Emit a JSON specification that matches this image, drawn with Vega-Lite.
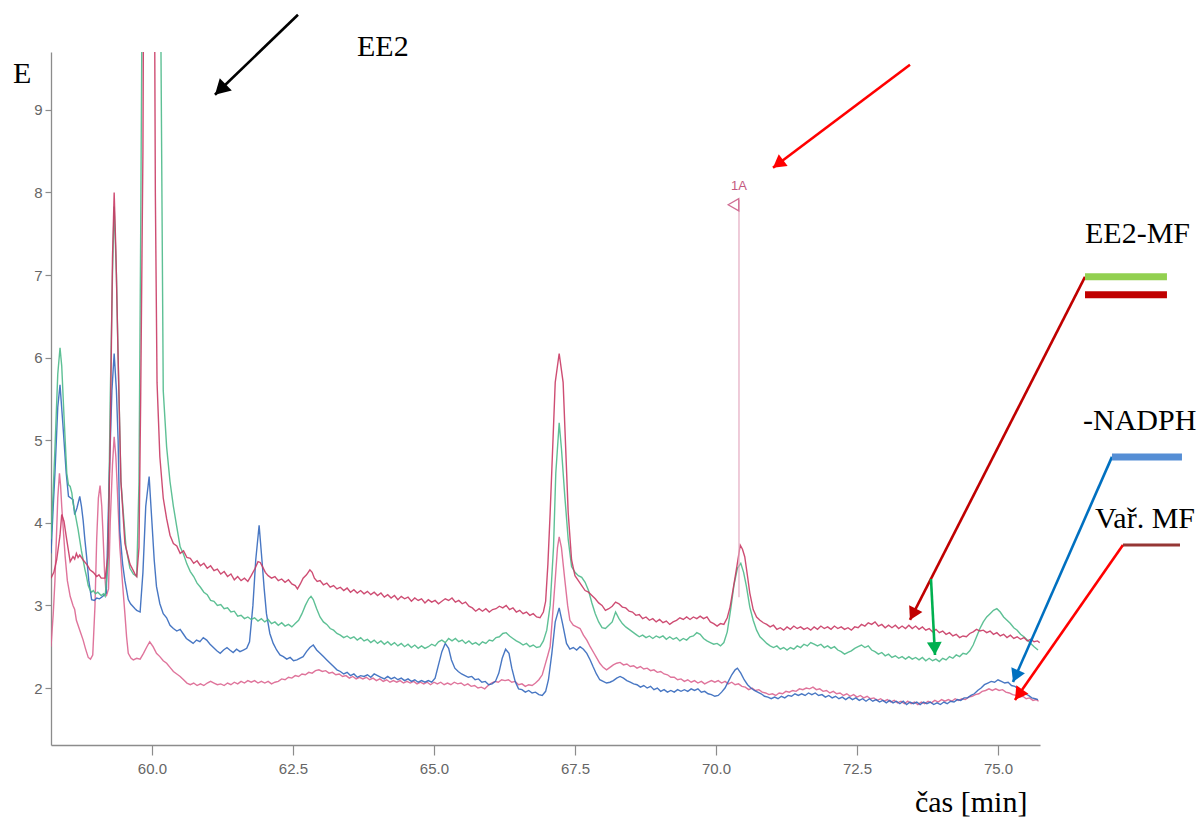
{
  "$schema": "https://vega.github.io/schema/vega-lite/v6.json",
  "width": 989,
  "height": 693,
  "autosize": {"type": "none"},
  "padding": {"left": 51, "top": 52, "right": 160, "bottom": 80},
  "background": "white",
  "config": {
    "view": {"stroke": null},
    "axis": {"grid": false, "domainColor": "#8c8c8c", "tickColor": "#8c8c8c", "labelColor": "#666666", "labelFont": "Liberation Sans", "labelFontSize": 15, "domainWidth": 1.3, "tickWidth": 1.2, "title": null}
  },
  "resolve": {"scale": {"color": "independent"}},
  "datasets": {
    "A": [
      {"t":58.21,"e":3.33},{"t":58.26,"e":3.40},{"t":58.31,"e":3.55},{"t":58.37,"e":3.85},{"t":58.40,"e":4.10},{"t":58.44,"e":4.02},{"t":58.49,"e":3.79},{"t":58.55,"e":3.53},{"t":58.60,"e":3.59},{"t":58.63,"e":3.56},{"t":58.66,"e":3.63},{"t":58.69,"e":3.58},{"t":58.72,"e":3.61},{"t":58.78,"e":3.55},{"t":58.84,"e":3.50},{"t":58.87,"e":3.47},{"t":58.90,"e":3.43},{"t":58.96,"e":3.40},{"t":59.02,"e":3.35},{"t":59.06,"e":3.37},{"t":59.10,"e":3.33},{"t":59.17,"e":3.33},{"t":59.22,"e":3.60},{"t":59.26,"e":5.0},{"t":59.30,"e":7.2},{"t":59.33,"e":8.0},{"t":59.36,"e":7.3},{"t":59.40,"e":6.0},{"t":59.45,"e":4.5},{"t":59.52,"e":3.75},{"t":59.61,"e":3.5},{"t":59.70,"e":3.38},{"t":59.73,"e":3.35},{"t":59.77,"e":3.7},{"t":59.80,"e":5.5},{"t":59.84,"e":8.5},{"t":59.86,"e":12},{"t":60.03,"e":12},{"t":60.05,"e":9.7},{"t":60.06,"e":8.0},{"t":60.09,"e":5.7},{"t":60.14,"e":4.8},{"t":60.20,"e":4.3},{"t":60.26,"e":4.05},{"t":60.32,"e":3.85},{"t":60.38,"e":3.75},{"t":60.44,"e":3.72},{"t":60.50,"e":3.63},{"t":60.56,"e":3.66},{"t":60.62,"e":3.58},{"t":60.68,"e":3.57},{"t":60.74,"e":3.51},{"t":60.80,"e":3.54},{"t":60.86,"e":3.48},{"t":60.92,"e":3.51},{"t":60.98,"e":3.45},{"t":61.04,"e":3.48},{"t":61.10,"e":3.42},{"t":61.16,"e":3.44},{"t":61.22,"e":3.38},{"t":61.28,"e":3.41},{"t":61.34,"e":3.35},{"t":61.40,"e":3.38},{"t":61.46,"e":3.31},{"t":61.52,"e":3.35},{"t":61.58,"e":3.30},{"t":61.64,"e":3.33},{"t":61.70,"e":3.29},{"t":61.76,"e":3.36},{"t":61.83,"e":3.45},{"t":61.88,"e":3.53},{"t":61.92,"e":3.52},{"t":61.96,"e":3.47},{"t":62.01,"e":3.40},{"t":62.06,"e":3.36},{"t":62.12,"e":3.33},{"t":62.18,"e":3.35},{"t":62.24,"e":3.30},{"t":62.30,"e":3.32},{"t":62.36,"e":3.28},{"t":62.42,"e":3.31},{"t":62.48,"e":3.26},{"t":62.54,"e":3.24},{"t":62.58,"e":3.20},{"t":62.63,"e":3.26},{"t":62.68,"e":3.33},{"t":62.74,"e":3.37},{"t":62.80,"e":3.43},{"t":62.84,"e":3.40},{"t":62.88,"e":3.33},{"t":62.93,"e":3.29},{"t":62.98,"e":3.30},{"t":63.04,"e":3.25},{"t":63.10,"e":3.27},{"t":63.16,"e":3.22},{"t":63.22,"e":3.24},{"t":63.28,"e":3.20},{"t":63.34,"e":3.22},{"t":63.40,"e":3.18},{"t":63.46,"e":3.21},{"t":63.52,"e":3.16},{"t":63.58,"e":3.19},{"t":63.64,"e":3.15},{"t":63.70,"e":3.18},{"t":63.76,"e":3.14},{"t":63.82,"e":3.17},{"t":63.88,"e":3.13},{"t":63.94,"e":3.16},{"t":64.00,"e":3.12},{"t":64.06,"e":3.15},{"t":64.12,"e":3.10},{"t":64.18,"e":3.13},{"t":64.24,"e":3.09},{"t":64.30,"e":3.12},{"t":64.36,"e":3.07},{"t":64.42,"e":3.11},{"t":64.48,"e":3.08},{"t":64.54,"e":3.10},{"t":64.60,"e":3.05},{"t":64.66,"e":3.09},{"t":64.72,"e":3.06},{"t":64.78,"e":3.08},{"t":64.84,"e":3.03},{"t":64.90,"e":3.07},{"t":64.96,"e":3.04},{"t":65.02,"e":3.06},{"t":65.08,"e":3.02},{"t":65.14,"e":3.05},{"t":65.20,"e":3.08},{"t":65.26,"e":3.06},{"t":65.32,"e":3.09},{"t":65.38,"e":3.04},{"t":65.44,"e":3.06},{"t":65.50,"e":3.02},{"t":65.56,"e":3.04},{"t":65.62,"e":2.99},{"t":65.68,"e":2.97},{"t":65.74,"e":2.93},{"t":65.80,"e":2.96},{"t":65.86,"e":2.93},{"t":65.92,"e":2.96},{"t":65.98,"e":2.92},{"t":66.04,"e":2.95},{"t":66.10,"e":2.96},{"t":66.16,"e":2.99},{"t":66.22,"e":2.97},{"t":66.28,"e":3.00},{"t":66.34,"e":2.95},{"t":66.40,"e":2.97},{"t":66.46,"e":2.92},{"t":66.52,"e":2.94},{"t":66.58,"e":2.90},{"t":66.64,"e":2.92},{"t":66.70,"e":2.88},{"t":66.76,"e":2.90},{"t":66.82,"e":2.86},{"t":66.88,"e":2.85},{"t":66.94,"e":2.92},{"t":66.98,"e":3.05},{"t":67.02,"e":3.5},{"t":67.06,"e":4.12},{"t":67.15,"e":5.7},{"t":67.22,"e":6.05},{"t":67.29,"e":5.7},{"t":67.38,"e":4.12},{"t":67.44,"e":3.55},{"t":67.50,"e":3.36},{"t":67.56,"e":3.30},{"t":67.62,"e":3.24},{"t":67.68,"e":3.18},{"t":67.74,"e":3.16},{"t":67.80,"e":3.12},{"t":67.86,"e":3.08},{"t":67.92,"e":3.03},{"t":67.98,"e":3.00},{"t":68.04,"e":2.94},{"t":68.10,"e":2.96},{"t":68.16,"e":2.99},{"t":68.22,"e":3.04},{"t":68.28,"e":3.02},{"t":68.34,"e":2.98},{"t":68.40,"e":2.97},{"t":68.46,"e":2.93},{"t":68.52,"e":2.92},{"t":68.58,"e":2.88},{"t":68.64,"e":2.89},{"t":68.70,"e":2.84},{"t":68.76,"e":2.86},{"t":68.82,"e":2.82},{"t":68.88,"e":2.84},{"t":68.94,"e":2.80},{"t":69.00,"e":2.83},{"t":69.06,"e":2.79},{"t":69.12,"e":2.81},{"t":69.18,"e":2.77},{"t":69.24,"e":2.80},{"t":69.30,"e":2.82},{"t":69.36,"e":2.85},{"t":69.42,"e":2.83},{"t":69.48,"e":2.86},{"t":69.54,"e":2.83},{"t":69.60,"e":2.86},{"t":69.66,"e":2.84},{"t":69.72,"e":2.87},{"t":69.78,"e":2.84},{"t":69.84,"e":2.86},{"t":69.90,"e":2.80},{"t":69.96,"e":2.78},{"t":70.02,"e":2.75},{"t":70.08,"e":2.78},{"t":70.14,"e":2.77},{"t":70.20,"e":2.85},{"t":70.25,"e":2.98},{"t":70.31,"e":3.22},{"t":70.37,"e":3.47},{"t":70.43,"e":3.73},{"t":70.47,"e":3.68},{"t":70.51,"e":3.59},{"t":70.56,"e":3.35},{"t":70.60,"e":3.15},{"t":70.66,"e":2.95},{"t":70.72,"e":2.86},{"t":70.78,"e":2.82},{"t":70.84,"e":2.79},{"t":70.90,"e":2.77},{"t":70.96,"e":2.74},{"t":71.02,"e":2.76},{"t":71.08,"e":2.71},{"t":71.14,"e":2.73},{"t":71.20,"e":2.70},{"t":71.26,"e":2.74},{"t":71.32,"e":2.71},{"t":71.38,"e":2.75},{"t":71.44,"e":2.72},{"t":71.50,"e":2.74},{"t":71.56,"e":2.71},{"t":71.62,"e":2.73},{"t":71.68,"e":2.70},{"t":71.74,"e":2.74},{"t":71.80,"e":2.71},{"t":71.86,"e":2.75},{"t":71.92,"e":2.72},{"t":71.98,"e":2.74},{"t":72.04,"e":2.71},{"t":72.10,"e":2.75},{"t":72.16,"e":2.72},{"t":72.22,"e":2.74},{"t":72.28,"e":2.71},{"t":72.34,"e":2.73},{"t":72.40,"e":2.70},{"t":72.46,"e":2.74},{"t":72.52,"e":2.73},{"t":72.58,"e":2.77},{"t":72.64,"e":2.75},{"t":72.70,"e":2.79},{"t":72.76,"e":2.77},{"t":72.82,"e":2.80},{"t":72.88,"e":2.75},{"t":72.94,"e":2.77},{"t":73.00,"e":2.73},{"t":73.06,"e":2.76},{"t":73.12,"e":2.73},{"t":73.18,"e":2.76},{"t":73.24,"e":2.72},{"t":73.30,"e":2.75},{"t":73.36,"e":2.72},{"t":73.42,"e":2.76},{"t":73.48,"e":2.72},{"t":73.54,"e":2.75},{"t":73.60,"e":2.71},{"t":73.66,"e":2.74},{"t":73.72,"e":2.70},{"t":73.78,"e":2.72},{"t":73.84,"e":2.68},{"t":73.90,"e":2.71},{"t":73.96,"e":2.67},{"t":74.02,"e":2.69},{"t":74.08,"e":2.65},{"t":74.14,"e":2.67},{"t":74.20,"e":2.63},{"t":74.26,"e":2.65},{"t":74.32,"e":2.61},{"t":74.38,"e":2.63},{"t":74.44,"e":2.62},{"t":74.50,"e":2.66},{"t":74.56,"e":2.68},{"t":74.62,"e":2.71},{"t":74.68,"e":2.69},{"t":74.74,"e":2.70},{"t":74.80,"e":2.67},{"t":74.86,"e":2.69},{"t":74.92,"e":2.65},{"t":74.98,"e":2.67},{"t":75.04,"e":2.63},{"t":75.10,"e":2.65},{"t":75.16,"e":2.61},{"t":75.22,"e":2.64},{"t":75.28,"e":2.60},{"t":75.34,"e":2.62},{"t":75.40,"e":2.59},{"t":75.46,"e":2.61},{"t":75.52,"e":2.57},{"t":75.58,"e":2.59},{"t":75.64,"e":2.56},{"t":75.70,"e":2.57},{"t":75.74,"e":2.55}
    ],
    "B": [
      {"t":58.21,"e":3.80},{"t":58.25,"e":4.4},{"t":58.28,"e":4.9},{"t":58.33,"e":5.8},{"t":58.37,"e":6.12},{"t":58.40,"e":5.9},{"t":58.44,"e":5.3},{"t":58.49,"e":4.6},{"t":58.52,"e":4.46},{"t":58.55,"e":4.44},{"t":58.58,"e":4.36},{"t":58.60,"e":4.24},{"t":58.63,"e":4.14},{"t":58.66,"e":4.03},{"t":58.69,"e":3.92},{"t":58.72,"e":3.79},{"t":58.75,"e":3.66},{"t":58.78,"e":3.55},{"t":58.81,"e":3.44},{"t":58.84,"e":3.35},{"t":58.87,"e":3.24},{"t":58.90,"e":3.19},{"t":58.93,"e":3.16},{"t":58.96,"e":3.18},{"t":59.00,"e":3.14},{"t":59.04,"e":3.16},{"t":59.10,"e":3.12},{"t":59.14,"e":3.14},{"t":59.17,"e":3.11},{"t":59.22,"e":3.5},{"t":59.26,"e":5.5},{"t":59.30,"e":7.0},{"t":59.33,"e":7.83},{"t":59.37,"e":7.0},{"t":59.40,"e":6.0},{"t":59.45,"e":4.5},{"t":59.54,"e":3.7},{"t":59.61,"e":3.45},{"t":59.67,"e":3.38},{"t":59.73,"e":3.35},{"t":59.77,"e":4.5},{"t":59.80,"e":7.5},{"t":59.82,"e":9.8},{"t":59.84,"e":12},{"t":60.14,"e":12},{"t":60.16,"e":9.7},{"t":60.20,"e":5.6},{"t":60.26,"e":4.92},{"t":60.32,"e":4.5},{"t":60.38,"e":4.20},{"t":60.44,"e":3.95},{"t":60.50,"e":3.71},{"t":60.56,"e":3.62},{"t":60.62,"e":3.50},{"t":60.68,"e":3.41},{"t":60.74,"e":3.35},{"t":60.80,"e":3.27},{"t":60.86,"e":3.22},{"t":60.92,"e":3.16},{"t":60.98,"e":3.13},{"t":61.04,"e":3.06},{"t":61.10,"e":3.05},{"t":61.16,"e":3.00},{"t":61.22,"e":3.01},{"t":61.28,"e":2.96},{"t":61.34,"e":2.97},{"t":61.40,"e":2.92},{"t":61.46,"e":2.93},{"t":61.52,"e":2.87},{"t":61.58,"e":2.88},{"t":61.64,"e":2.84},{"t":61.70,"e":2.86},{"t":61.76,"e":2.83},{"t":61.82,"e":2.85},{"t":61.88,"e":2.81},{"t":61.94,"e":2.84},{"t":62.00,"e":2.80},{"t":62.06,"e":2.83},{"t":62.12,"e":2.78},{"t":62.18,"e":2.80},{"t":62.24,"e":2.76},{"t":62.30,"e":2.79},{"t":62.36,"e":2.75},{"t":62.42,"e":2.77},{"t":62.48,"e":2.74},{"t":62.54,"e":2.78},{"t":62.60,"e":2.82},{"t":62.66,"e":2.90},{"t":62.72,"e":3.00},{"t":62.78,"e":3.08},{"t":62.82,"e":3.11},{"t":62.86,"e":3.07},{"t":62.92,"e":2.96},{"t":62.98,"e":2.86},{"t":63.04,"e":2.80},{"t":63.10,"e":2.77},{"t":63.16,"e":2.72},{"t":63.22,"e":2.70},{"t":63.28,"e":2.66},{"t":63.34,"e":2.64},{"t":63.40,"e":2.61},{"t":63.46,"e":2.63},{"t":63.52,"e":2.60},{"t":63.58,"e":2.62},{"t":63.64,"e":2.58},{"t":63.70,"e":2.61},{"t":63.76,"e":2.57},{"t":63.82,"e":2.59},{"t":63.88,"e":2.55},{"t":63.94,"e":2.58},{"t":64.00,"e":2.54},{"t":64.06,"e":2.57},{"t":64.12,"e":2.53},{"t":64.18,"e":2.56},{"t":64.24,"e":2.52},{"t":64.30,"e":2.55},{"t":64.36,"e":2.51},{"t":64.42,"e":2.54},{"t":64.48,"e":2.50},{"t":64.54,"e":2.53},{"t":64.60,"e":2.49},{"t":64.66,"e":2.52},{"t":64.72,"e":2.48},{"t":64.78,"e":2.51},{"t":64.84,"e":2.48},{"t":64.90,"e":2.50},{"t":64.96,"e":2.53},{"t":65.02,"e":2.51},{"t":65.08,"e":2.56},{"t":65.14,"e":2.58},{"t":65.20,"e":2.55},{"t":65.26,"e":2.60},{"t":65.32,"e":2.57},{"t":65.38,"e":2.60},{"t":65.44,"e":2.56},{"t":65.50,"e":2.58},{"t":65.56,"e":2.54},{"t":65.62,"e":2.57},{"t":65.68,"e":2.53},{"t":65.74,"e":2.55},{"t":65.80,"e":2.52},{"t":65.86,"e":2.56},{"t":65.92,"e":2.54},{"t":65.98,"e":2.58},{"t":66.04,"e":2.57},{"t":66.10,"e":2.61},{"t":66.16,"e":2.62},{"t":66.22,"e":2.66},{"t":66.28,"e":2.67},{"t":66.34,"e":2.63},{"t":66.40,"e":2.60},{"t":66.46,"e":2.57},{"t":66.52,"e":2.55},{"t":66.58,"e":2.52},{"t":66.64,"e":2.54},{"t":66.70,"e":2.50},{"t":66.76,"e":2.52},{"t":66.82,"e":2.49},{"t":66.88,"e":2.50},{"t":66.94,"e":2.57},{"t":67.00,"e":2.70},{"t":67.06,"e":3.0},{"t":67.12,"e":3.71},{"t":67.16,"e":4.6},{"t":67.22,"e":5.21},{"t":67.26,"e":4.9},{"t":67.32,"e":4.32},{"t":67.38,"e":3.8},{"t":67.44,"e":3.47},{"t":67.50,"e":3.40},{"t":67.56,"e":3.36},{"t":67.62,"e":3.34},{"t":67.68,"e":3.28},{"t":67.74,"e":3.18},{"t":67.80,"e":3.03},{"t":67.86,"e":2.90},{"t":67.92,"e":2.80},{"t":67.98,"e":2.73},{"t":68.04,"e":2.72},{"t":68.10,"e":2.76},{"t":68.16,"e":2.80},{"t":68.22,"e":2.92},{"t":68.28,"e":2.84},{"t":68.34,"e":2.78},{"t":68.40,"e":2.74},{"t":68.46,"e":2.71},{"t":68.52,"e":2.68},{"t":68.58,"e":2.65},{"t":68.64,"e":2.62},{"t":68.70,"e":2.64},{"t":68.76,"e":2.61},{"t":68.82,"e":2.63},{"t":68.88,"e":2.60},{"t":68.94,"e":2.63},{"t":69.00,"e":2.61},{"t":69.06,"e":2.63},{"t":69.12,"e":2.59},{"t":69.18,"e":2.62},{"t":69.24,"e":2.59},{"t":69.30,"e":2.61},{"t":69.36,"e":2.57},{"t":69.42,"e":2.60},{"t":69.48,"e":2.58},{"t":69.54,"e":2.62},{"t":69.60,"e":2.63},{"t":69.66,"e":2.67},{"t":69.72,"e":2.65},{"t":69.78,"e":2.60},{"t":69.84,"e":2.57},{"t":69.90,"e":2.55},{"t":69.96,"e":2.53},{"t":70.02,"e":2.54},{"t":70.08,"e":2.51},{"t":70.14,"e":2.55},{"t":70.20,"e":2.68},{"t":70.26,"e":2.95},{"t":70.32,"e":3.25},{"t":70.38,"e":3.45},{"t":70.44,"e":3.51},{"t":70.49,"e":3.40},{"t":70.54,"e":3.23},{"t":70.60,"e":2.98},{"t":70.66,"e":2.82},{"t":70.72,"e":2.70},{"t":70.78,"e":2.62},{"t":70.84,"e":2.58},{"t":70.90,"e":2.54},{"t":70.96,"e":2.51},{"t":71.02,"e":2.49},{"t":71.08,"e":2.51},{"t":71.14,"e":2.47},{"t":71.20,"e":2.49},{"t":71.26,"e":2.46},{"t":71.32,"e":2.49},{"t":71.38,"e":2.47},{"t":71.44,"e":2.51},{"t":71.50,"e":2.49},{"t":71.56,"e":2.53},{"t":71.62,"e":2.51},{"t":71.68,"e":2.55},{"t":71.74,"e":2.53},{"t":71.80,"e":2.51},{"t":71.86,"e":2.53},{"t":71.92,"e":2.49},{"t":71.98,"e":2.51},{"t":72.04,"e":2.48},{"t":72.10,"e":2.50},{"t":72.16,"e":2.46},{"t":72.22,"e":2.44},{"t":72.28,"e":2.41},{"t":72.34,"e":2.43},{"t":72.40,"e":2.45},{"t":72.46,"e":2.48},{"t":72.52,"e":2.50},{"t":72.58,"e":2.52},{"t":72.64,"e":2.49},{"t":72.70,"e":2.51},{"t":72.76,"e":2.46},{"t":72.82,"e":2.44},{"t":72.88,"e":2.41},{"t":72.94,"e":2.43},{"t":73.00,"e":2.39},{"t":73.06,"e":2.41},{"t":73.12,"e":2.37},{"t":73.18,"e":2.39},{"t":73.24,"e":2.36},{"t":73.30,"e":2.38},{"t":73.36,"e":2.35},{"t":73.42,"e":2.38},{"t":73.48,"e":2.35},{"t":73.54,"e":2.37},{"t":73.60,"e":2.34},{"t":73.66,"e":2.37},{"t":73.72,"e":2.33},{"t":73.78,"e":2.36},{"t":73.84,"e":2.33},{"t":73.90,"e":2.35},{"t":73.96,"e":2.32},{"t":74.02,"e":2.36},{"t":74.08,"e":2.34},{"t":74.14,"e":2.38},{"t":74.20,"e":2.36},{"t":74.26,"e":2.40},{"t":74.32,"e":2.38},{"t":74.38,"e":2.42},{"t":74.44,"e":2.41},{"t":74.50,"e":2.45},{"t":74.56,"e":2.52},{"t":74.62,"e":2.62},{"t":74.68,"e":2.72},{"t":74.74,"e":2.80},{"t":74.80,"e":2.86},{"t":74.86,"e":2.90},{"t":74.92,"e":2.94},{"t":74.98,"e":2.96},{"t":75.04,"e":2.92},{"t":75.10,"e":2.86},{"t":75.16,"e":2.82},{"t":75.22,"e":2.78},{"t":75.28,"e":2.73},{"t":75.34,"e":2.70},{"t":75.40,"e":2.65},{"t":75.46,"e":2.62},{"t":75.52,"e":2.58},{"t":75.58,"e":2.54},{"t":75.64,"e":2.50},{"t":75.71,"e":2.46}
    ],
    "C": [
      {"t":58.21,"e":3.63},{"t":58.25,"e":4.2},{"t":58.28,"e":4.6},{"t":58.33,"e":5.4},{"t":58.37,"e":5.67},{"t":58.42,"e":5.2},{"t":58.48,"e":4.6},{"t":58.52,"e":4.32},{"t":58.56,"e":4.30},{"t":58.60,"e":4.28},{"t":58.63,"e":4.10},{"t":58.67,"e":4.18},{"t":58.72,"e":4.32},{"t":58.75,"e":4.20},{"t":58.78,"e":4.03},{"t":58.81,"e":3.80},{"t":58.84,"e":3.6},{"t":58.88,"e":3.30},{"t":58.93,"e":3.07},{"t":58.98,"e":3.06},{"t":59.02,"e":3.09},{"t":59.07,"e":3.08},{"t":59.13,"e":3.11},{"t":59.19,"e":3.15},{"t":59.24,"e":4.5},{"t":59.29,"e":5.6},{"t":59.33,"e":6.05},{"t":59.37,"e":5.6},{"t":59.40,"e":5.0},{"t":59.43,"e":3.9},{"t":59.48,"e":3.5},{"t":59.52,"e":3.3},{"t":59.58,"e":3.07},{"t":59.62,"e":3.02},{"t":59.66,"e":2.99},{"t":59.70,"e":2.96},{"t":59.73,"e":2.94},{"t":59.79,"e":2.92},{"t":59.84,"e":3.4},{"t":59.89,"e":4.2},{"t":59.95,"e":4.56},{"t":60.00,"e":4.0},{"t":60.04,"e":3.55},{"t":60.08,"e":3.23},{"t":60.14,"e":3.02},{"t":60.20,"e":2.90},{"t":60.26,"e":2.85},{"t":60.32,"e":2.76},{"t":60.38,"e":2.72},{"t":60.44,"e":2.69},{"t":60.50,"e":2.71},{"t":60.55,"e":2.66},{"t":60.61,"e":2.60},{"t":60.67,"e":2.57},{"t":60.73,"e":2.54},{"t":60.79,"e":2.58},{"t":60.85,"e":2.56},{"t":60.91,"e":2.61},{"t":60.97,"e":2.58},{"t":61.03,"e":2.53},{"t":61.09,"e":2.49},{"t":61.15,"e":2.45},{"t":61.21,"e":2.42},{"t":61.27,"e":2.46},{"t":61.33,"e":2.49},{"t":61.38,"e":2.46},{"t":61.44,"e":2.43},{"t":61.50,"e":2.47},{"t":61.56,"e":2.44},{"t":61.62,"e":2.46},{"t":61.68,"e":2.48},{"t":61.73,"e":2.56},{"t":61.79,"e":3.0},{"t":61.84,"e":3.55},{"t":61.90,"e":3.97},{"t":61.95,"e":3.55},{"t":61.99,"e":3.2},{"t":62.03,"e":2.90},{"t":62.09,"e":2.66},{"t":62.15,"e":2.54},{"t":62.21,"e":2.46},{"t":62.27,"e":2.40},{"t":62.33,"e":2.38},{"t":62.39,"e":2.35},{"t":62.45,"e":2.37},{"t":62.51,"e":2.33},{"t":62.57,"e":2.34},{"t":62.62,"e":2.36},{"t":62.68,"e":2.38},{"t":62.74,"e":2.44},{"t":62.80,"e":2.49},{"t":62.86,"e":2.52},{"t":62.92,"e":2.46},{"t":62.98,"e":2.42},{"t":63.04,"e":2.38},{"t":63.10,"e":2.34},{"t":63.16,"e":2.30},{"t":63.22,"e":2.26},{"t":63.28,"e":2.22},{"t":63.34,"e":2.20},{"t":63.40,"e":2.17},{"t":63.46,"e":2.19},{"t":63.52,"e":2.15},{"t":63.58,"e":2.17},{"t":63.64,"e":2.13},{"t":63.70,"e":2.15},{"t":63.76,"e":2.14},{"t":63.82,"e":2.16},{"t":63.88,"e":2.13},{"t":63.94,"e":2.17},{"t":64.00,"e":2.15},{"t":64.06,"e":2.13},{"t":64.12,"e":2.11},{"t":64.18,"e":2.14},{"t":64.24,"e":2.11},{"t":64.30,"e":2.13},{"t":64.36,"e":2.10},{"t":64.42,"e":2.12},{"t":64.48,"e":2.09},{"t":64.54,"e":2.11},{"t":64.60,"e":2.08},{"t":64.66,"e":2.10},{"t":64.72,"e":2.07},{"t":64.78,"e":2.09},{"t":64.84,"e":2.07},{"t":64.90,"e":2.09},{"t":64.96,"e":2.07},{"t":65.02,"e":2.12},{"t":65.08,"e":2.28},{"t":65.14,"e":2.44},{"t":65.20,"e":2.54},{"t":65.26,"e":2.48},{"t":65.31,"e":2.34},{"t":65.37,"e":2.24},{"t":65.43,"e":2.20},{"t":65.49,"e":2.17},{"t":65.55,"e":2.15},{"t":65.61,"e":2.13},{"t":65.67,"e":2.14},{"t":65.73,"e":2.10},{"t":65.79,"e":2.11},{"t":65.85,"e":2.07},{"t":65.91,"e":2.08},{"t":65.97,"e":2.04},{"t":66.03,"e":2.05},{"t":66.09,"e":2.08},{"t":66.15,"e":2.18},{"t":66.21,"e":2.36},{"t":66.27,"e":2.47},{"t":66.33,"e":2.42},{"t":66.38,"e":2.24},{"t":66.44,"e":2.08},{"t":66.50,"e":1.99},{"t":66.56,"e":1.98},{"t":66.62,"e":1.95},{"t":66.68,"e":1.97},{"t":66.74,"e":1.94},{"t":66.80,"e":1.95},{"t":66.86,"e":1.92},{"t":66.92,"e":1.91},{"t":66.98,"e":1.96},{"t":67.03,"e":2.10},{"t":67.09,"e":2.42},{"t":67.15,"e":2.80},{"t":67.22,"e":2.97},{"t":67.28,"e":2.78},{"t":67.35,"e":2.54},{"t":67.41,"e":2.47},{"t":67.47,"e":2.49},{"t":67.53,"e":2.46},{"t":67.59,"e":2.50},{"t":67.65,"e":2.47},{"t":67.71,"e":2.42},{"t":67.77,"e":2.34},{"t":67.82,"e":2.26},{"t":67.88,"e":2.17},{"t":67.94,"e":2.10},{"t":68.00,"e":2.08},{"t":68.06,"e":2.06},{"t":68.12,"e":2.07},{"t":68.18,"e":2.09},{"t":68.24,"e":2.12},{"t":68.30,"e":2.14},{"t":68.36,"e":2.12},{"t":68.42,"e":2.09},{"t":68.48,"e":2.07},{"t":68.54,"e":2.05},{"t":68.60,"e":2.04},{"t":68.66,"e":2.01},{"t":68.72,"e":2.03},{"t":68.78,"e":2.00},{"t":68.84,"e":2.02},{"t":68.90,"e":1.98},{"t":68.96,"e":2.00},{"t":69.02,"e":1.96},{"t":69.08,"e":1.98},{"t":69.14,"e":1.95},{"t":69.20,"e":1.97},{"t":69.26,"e":1.95},{"t":69.32,"e":1.98},{"t":69.38,"e":1.96},{"t":69.44,"e":1.98},{"t":69.50,"e":1.96},{"t":69.56,"e":1.99},{"t":69.62,"e":1.97},{"t":69.68,"e":1.99},{"t":69.74,"e":1.95},{"t":69.80,"e":1.96},{"t":69.86,"e":1.93},{"t":69.92,"e":1.92},{"t":69.98,"e":1.90},{"t":70.04,"e":1.91},{"t":70.10,"e":1.95},{"t":70.16,"e":2.00},{"t":70.22,"e":2.08},{"t":70.28,"e":2.16},{"t":70.34,"e":2.22},{"t":70.38,"e":2.24},{"t":70.44,"e":2.18},{"t":70.50,"e":2.10},{"t":70.56,"e":2.04},{"t":70.62,"e":2.00},{"t":70.68,"e":1.97},{"t":70.74,"e":1.95},{"t":70.80,"e":1.93},{"t":70.86,"e":1.90},{"t":70.92,"e":1.89},{"t":70.98,"e":1.87},{"t":71.04,"e":1.89},{"t":71.10,"e":1.87},{"t":71.16,"e":1.90},{"t":71.22,"e":1.88},{"t":71.28,"e":1.91},{"t":71.34,"e":1.90},{"t":71.40,"e":1.93},{"t":71.46,"e":1.91},{"t":71.52,"e":1.93},{"t":71.58,"e":1.91},{"t":71.64,"e":1.94},{"t":71.70,"e":1.92},{"t":71.76,"e":1.94},{"t":71.82,"e":1.91},{"t":71.88,"e":1.92},{"t":71.94,"e":1.89},{"t":72.00,"e":1.91},{"t":72.06,"e":1.88},{"t":72.12,"e":1.90},{"t":72.18,"e":1.87},{"t":72.24,"e":1.89},{"t":72.30,"e":1.86},{"t":72.36,"e":1.89},{"t":72.42,"e":1.86},{"t":72.48,"e":1.88},{"t":72.54,"e":1.85},{"t":72.60,"e":1.87},{"t":72.66,"e":1.84},{"t":72.72,"e":1.87},{"t":72.78,"e":1.84},{"t":72.84,"e":1.86},{"t":72.90,"e":1.83},{"t":72.96,"e":1.85},{"t":73.02,"e":1.82},{"t":73.08,"e":1.85},{"t":73.14,"e":1.82},{"t":73.20,"e":1.84},{"t":73.26,"e":1.81},{"t":73.32,"e":1.84},{"t":73.38,"e":1.80},{"t":73.44,"e":1.83},{"t":73.50,"e":1.81},{"t":73.56,"e":1.83},{"t":73.62,"e":1.80},{"t":73.68,"e":1.83},{"t":73.74,"e":1.81},{"t":73.80,"e":1.83},{"t":73.86,"e":1.80},{"t":73.92,"e":1.82},{"t":73.98,"e":1.80},{"t":74.04,"e":1.83},{"t":74.10,"e":1.81},{"t":74.16,"e":1.84},{"t":74.22,"e":1.83},{"t":74.28,"e":1.86},{"t":74.34,"e":1.85},{"t":74.40,"e":1.88},{"t":74.46,"e":1.88},{"t":74.52,"e":1.91},{"t":74.58,"e":1.93},{"t":74.64,"e":1.97},{"t":74.70,"e":2.00},{"t":74.76,"e":2.04},{"t":74.82,"e":2.06},{"t":74.88,"e":2.08},{"t":74.94,"e":2.07},{"t":75.00,"e":2.10},{"t":75.06,"e":2.08},{"t":75.12,"e":2.06},{"t":75.18,"e":2.07},{"t":75.24,"e":2.03},{"t":75.30,"e":2.02},{"t":75.36,"e":1.99},{"t":75.42,"e":1.97},{"t":75.48,"e":1.93},{"t":75.54,"e":1.91},{"t":75.60,"e":1.88},{"t":75.66,"e":1.87},{"t":75.71,"e":1.86}
    ],
    "D": [
      {"t":58.21,"e":2.50},{"t":58.25,"e":2.9},{"t":58.28,"e":3.3},{"t":58.31,"e":3.9},{"t":58.33,"e":4.3},{"t":58.36,"e":4.60},{"t":58.38,"e":4.45},{"t":58.40,"e":4.2},{"t":58.43,"e":3.9},{"t":58.46,"e":3.6},{"t":58.50,"e":3.3},{"t":58.55,"e":3.11},{"t":58.60,"e":3.0},{"t":58.63,"e":2.95},{"t":58.66,"e":2.82},{"t":58.72,"e":2.70},{"t":58.78,"e":2.58},{"t":58.82,"e":2.48},{"t":58.87,"e":2.37},{"t":58.91,"e":2.35},{"t":58.95,"e":2.4},{"t":58.99,"e":3.0},{"t":59.02,"e":3.8},{"t":59.05,"e":4.3},{"t":59.08,"e":4.45},{"t":59.11,"e":4.2},{"t":59.13,"e":3.9},{"t":59.16,"e":3.4},{"t":59.19,"e":3.11},{"t":59.23,"e":3.2},{"t":59.26,"e":4.0},{"t":59.30,"e":4.7},{"t":59.33,"e":5.04},{"t":59.36,"e":4.8},{"t":59.38,"e":4.5},{"t":59.43,"e":3.71},{"t":59.48,"e":3.25},{"t":59.52,"e":2.90},{"t":59.55,"e":2.62},{"t":59.58,"e":2.42},{"t":59.63,"e":2.36},{"t":59.67,"e":2.34},{"t":59.73,"e":2.36},{"t":59.79,"e":2.35},{"t":59.85,"e":2.42},{"t":59.91,"e":2.50},{"t":59.96,"e":2.56},{"t":60.02,"e":2.5},{"t":60.08,"e":2.42},{"t":60.14,"e":2.38},{"t":60.20,"e":2.33},{"t":60.26,"e":2.30},{"t":60.32,"e":2.25},{"t":60.38,"e":2.20},{"t":60.44,"e":2.17},{"t":60.50,"e":2.14},{"t":60.56,"e":2.10},{"t":60.62,"e":2.06},{"t":60.68,"e":2.04},{"t":60.74,"e":2.06},{"t":60.80,"e":2.03},{"t":60.86,"e":2.05},{"t":60.92,"e":2.03},{"t":60.98,"e":2.06},{"t":61.04,"e":2.08},{"t":61.10,"e":2.06},{"t":61.16,"e":2.04},{"t":61.22,"e":2.05},{"t":61.28,"e":2.03},{"t":61.34,"e":2.06},{"t":61.40,"e":2.04},{"t":61.46,"e":2.07},{"t":61.52,"e":2.05},{"t":61.58,"e":2.08},{"t":61.64,"e":2.06},{"t":61.70,"e":2.09},{"t":61.76,"e":2.07},{"t":61.82,"e":2.09},{"t":61.88,"e":2.06},{"t":61.94,"e":2.08},{"t":62.00,"e":2.06},{"t":62.06,"e":2.08},{"t":62.12,"e":2.05},{"t":62.18,"e":2.07},{"t":62.24,"e":2.08},{"t":62.30,"e":2.11},{"t":62.36,"e":2.10},{"t":62.42,"e":2.13},{"t":62.48,"e":2.12},{"t":62.54,"e":2.15},{"t":62.60,"e":2.14},{"t":62.66,"e":2.17},{"t":62.72,"e":2.16},{"t":62.78,"e":2.19},{"t":62.84,"e":2.18},{"t":62.90,"e":2.21},{"t":62.96,"e":2.22},{"t":63.02,"e":2.20},{"t":63.08,"e":2.21},{"t":63.14,"e":2.18},{"t":63.20,"e":2.19},{"t":63.26,"e":2.16},{"t":63.32,"e":2.17},{"t":63.38,"e":2.14},{"t":63.44,"e":2.15},{"t":63.50,"e":2.12},{"t":63.56,"e":2.14},{"t":63.62,"e":2.11},{"t":63.68,"e":2.13},{"t":63.74,"e":2.11},{"t":63.80,"e":2.13},{"t":63.86,"e":2.10},{"t":63.92,"e":2.12},{"t":63.98,"e":2.09},{"t":64.04,"e":2.11},{"t":64.10,"e":2.08},{"t":64.16,"e":2.10},{"t":64.22,"e":2.07},{"t":64.28,"e":2.09},{"t":64.34,"e":2.07},{"t":64.40,"e":2.09},{"t":64.46,"e":2.06},{"t":64.52,"e":2.08},{"t":64.58,"e":2.06},{"t":64.64,"e":2.08},{"t":64.70,"e":2.05},{"t":64.76,"e":2.07},{"t":64.82,"e":2.05},{"t":64.88,"e":2.07},{"t":64.94,"e":2.04},{"t":65.00,"e":2.07},{"t":65.06,"e":2.05},{"t":65.12,"e":2.07},{"t":65.18,"e":2.04},{"t":65.24,"e":2.06},{"t":65.30,"e":2.04},{"t":65.36,"e":2.07},{"t":65.42,"e":2.05},{"t":65.48,"e":2.06},{"t":65.54,"e":2.03},{"t":65.60,"e":2.05},{"t":65.66,"e":2.02},{"t":65.72,"e":2.03},{"t":65.78,"e":2.00},{"t":65.84,"e":2.01},{"t":65.90,"e":1.99},{"t":65.96,"e":2.03},{"t":66.02,"e":2.06},{"t":66.08,"e":2.08},{"t":66.14,"e":2.07},{"t":66.20,"e":2.10},{"t":66.26,"e":2.09},{"t":66.32,"e":2.10},{"t":66.38,"e":2.07},{"t":66.44,"e":2.08},{"t":66.50,"e":2.04},{"t":66.56,"e":2.05},{"t":66.62,"e":2.02},{"t":66.68,"e":2.04},{"t":66.74,"e":2.03},{"t":66.80,"e":2.06},{"t":66.86,"e":2.10},{"t":66.92,"e":2.16},{"t":66.97,"e":2.28},{"t":67.02,"e":2.40},{"t":67.06,"e":2.50},{"t":67.10,"e":2.85},{"t":67.15,"e":3.31},{"t":67.19,"e":3.70},{"t":67.22,"e":3.83},{"t":67.26,"e":3.70},{"t":67.32,"e":3.31},{"t":67.37,"e":3.00},{"t":67.41,"e":2.82},{"t":67.47,"e":2.76},{"t":67.53,"e":2.74},{"t":67.59,"e":2.72},{"t":67.65,"e":2.64},{"t":67.71,"e":2.58},{"t":67.77,"e":2.50},{"t":67.83,"e":2.43},{"t":67.89,"e":2.36},{"t":67.94,"e":2.30},{"t":68.00,"e":2.25},{"t":68.06,"e":2.22},{"t":68.12,"e":2.25},{"t":68.18,"e":2.28},{"t":68.24,"e":2.30},{"t":68.30,"e":2.31},{"t":68.36,"e":2.28},{"t":68.42,"e":2.29},{"t":68.48,"e":2.26},{"t":68.54,"e":2.27},{"t":68.60,"e":2.24},{"t":68.66,"e":2.26},{"t":68.72,"e":2.23},{"t":68.78,"e":2.24},{"t":68.84,"e":2.21},{"t":68.90,"e":2.22},{"t":68.96,"e":2.19},{"t":69.02,"e":2.20},{"t":69.08,"e":2.17},{"t":69.14,"e":2.16},{"t":69.20,"e":2.13},{"t":69.26,"e":2.13},{"t":69.32,"e":2.10},{"t":69.38,"e":2.11},{"t":69.44,"e":2.08},{"t":69.50,"e":2.10},{"t":69.56,"e":2.07},{"t":69.62,"e":2.09},{"t":69.68,"e":2.06},{"t":69.74,"e":2.08},{"t":69.80,"e":2.05},{"t":69.86,"e":2.07},{"t":69.92,"e":2.09},{"t":69.98,"e":2.07},{"t":70.04,"e":2.09},{"t":70.10,"e":2.06},{"t":70.16,"e":2.08},{"t":70.22,"e":2.05},{"t":70.28,"e":2.07},{"t":70.34,"e":2.04},{"t":70.40,"e":2.05},{"t":70.46,"e":2.02},{"t":70.52,"e":2.01},{"t":70.58,"e":1.98},{"t":70.64,"e":2.00},{"t":70.70,"e":1.97},{"t":70.76,"e":1.98},{"t":70.82,"e":1.95},{"t":70.88,"e":1.94},{"t":70.94,"e":1.92},{"t":71.00,"e":1.93},{"t":71.06,"e":1.91},{"t":71.12,"e":1.94},{"t":71.18,"e":1.93},{"t":71.24,"e":1.96},{"t":71.30,"e":1.95},{"t":71.36,"e":1.97},{"t":71.42,"e":1.96},{"t":71.48,"e":1.99},{"t":71.54,"e":1.98},{"t":71.60,"e":2.00},{"t":71.66,"e":1.99},{"t":71.72,"e":2.01},{"t":71.78,"e":1.98},{"t":71.84,"e":1.99},{"t":71.90,"e":1.96},{"t":71.96,"e":1.97},{"t":72.02,"e":1.94},{"t":72.08,"e":1.96},{"t":72.14,"e":1.93},{"t":72.20,"e":1.94},{"t":72.26,"e":1.91},{"t":72.32,"e":1.93},{"t":72.38,"e":1.90},{"t":72.44,"e":1.92},{"t":72.50,"e":1.89},{"t":72.56,"e":1.91},{"t":72.62,"e":1.88},{"t":72.68,"e":1.90},{"t":72.74,"e":1.87},{"t":72.80,"e":1.88},{"t":72.86,"e":1.85},{"t":72.92,"e":1.87},{"t":72.98,"e":1.84},{"t":73.04,"e":1.86},{"t":73.10,"e":1.83},{"t":73.16,"e":1.85},{"t":73.22,"e":1.82},{"t":73.28,"e":1.84},{"t":73.34,"e":1.81},{"t":73.40,"e":1.84},{"t":73.46,"e":1.81},{"t":73.52,"e":1.83},{"t":73.58,"e":1.80},{"t":73.64,"e":1.83},{"t":73.70,"e":1.81},{"t":73.76,"e":1.84},{"t":73.82,"e":1.82},{"t":73.88,"e":1.85},{"t":73.94,"e":1.83},{"t":74.00,"e":1.86},{"t":74.06,"e":1.84},{"t":74.12,"e":1.86},{"t":74.18,"e":1.84},{"t":74.24,"e":1.87},{"t":74.30,"e":1.85},{"t":74.36,"e":1.87},{"t":74.42,"e":1.86},{"t":74.48,"e":1.89},{"t":74.54,"e":1.90},{"t":74.60,"e":1.92},{"t":74.66,"e":1.93},{"t":74.72,"e":1.96},{"t":74.78,"e":1.97},{"t":74.84,"e":1.99},{"t":74.90,"e":1.97},{"t":74.96,"e":1.99},{"t":75.02,"e":1.97},{"t":75.08,"e":1.98},{"t":75.14,"e":1.95},{"t":75.20,"e":1.94},{"t":75.26,"e":1.92},{"t":75.32,"e":1.91},{"t":75.38,"e":1.89},{"t":75.44,"e":1.90},{"t":75.50,"e":1.87},{"t":75.56,"e":1.88},{"t":75.62,"e":1.85},{"t":75.68,"e":1.86},{"t":75.72,"e":1.84}
    ],
    "arrows": [
      {"id":"black","x1":62.589,"y1":10.151,"x2":61.117,"y2":9.182},
      {"id":"red1","x1":73.440,"y1":9.545,"x2":71.011,"y2":8.298},
      {"id":"darkred","x1":76.543,"y1":6.978,"x2":73.440,"y2":2.824},
      {"id":"green","x1":73.812,"y1":3.320,"x2":73.883,"y2":2.400},
      {"id":"blue","x1":77.021,"y1":4.798,"x2":75.266,"y2":2.073},
      {"id":"red2","x1":77.216,"y1":3.732,"x2":75.301,"y2":1.855}
    ],
    "heads": [
      {"id":"black","x":61.213,"y":9.245},
      {"id":"red1","x":71.101,"y":8.345},
      {"id":"darkred","x":73.491,"y":2.893},
      {"id":"green","x":73.877,"y":2.477},
      {"id":"blue","x":75.312,"y":2.144},
      {"id":"red2","x":75.367,"y":1.919}
    ],
    "keys": [
      {"id":"g","x1":76.543,"x2":77.996,"y":6.978},
      {"id":"r","x1":76.543,"x2":77.996,"y":6.760},
      {"id":"b","x1":77.021,"x2":78.262,"y":4.798}
    ],
    "thinkey": [
      {"id":"br","x1":77.216,"x2":78.227,"y":3.732}
    ],
    "marker": [
      {"t":70.408,"top":7.91,"bot":3.10,"label":"1A","ly":8.08,"tx":70.31,"ty":7.85}
    ],
    "labels": [
      {"txt":"E","x":57.535,"y":9.327},
      {"txt":"EE2","x":63.635,"y":9.654},
      {"txt":"EE2-MF","x":76.543,"y":7.389},
      {"txt":"-NADPH","x":76.507,"y":5.125},
      {"txt":"Vař. MF","x":76.720,"y":3.938},
      {"txt":"čas [min]","x":73.528,"y":0.498}
    ]
  },
  "layer": [
    {
      "data": {"name": "D"},
      "mark": {"type": "line", "clip": true, "strokeWidth": 1.4, "color": "#dc6590", "opacity": 0.9},
      "encoding": {
        "x": {"field": "t", "type": "quantitative", "scale": {"domain": [58.21, 75.745], "nice": false, "zero": false},
              "axis": {"values": [60, 62.5, 65, 67.5, 70, 72.5, 75], "format": ".1f", "tickSize": 10, "labelPadding": 6}},
        "y": {"field": "e", "type": "quantitative", "scale": {"domain": [1.31, 9.70], "nice": false, "zero": false},
              "axis": {"values": [2, 3, 4, 5, 6, 7, 8, 9], "format": "d", "tickSize": 6, "labelPadding": 3}}
      }
    },
    {
      "data": {"name": "C"},
      "mark": {"type": "line", "clip": true, "strokeWidth": 1.4, "color": "#3468bd", "opacity": 0.9},
      "encoding": {
        "x": {"field": "t", "type": "quantitative", "scale": {"domain": [58.21, 75.745], "nice": false, "zero": false}},
        "y": {"field": "e", "type": "quantitative", "scale": {"domain": [1.31, 9.70], "nice": false, "zero": false}}
      }
    },
    {
      "data": {"name": "B"},
      "mark": {"type": "line", "clip": true, "strokeWidth": 1.4, "color": "#4cb98a", "opacity": 0.9},
      "encoding": {
        "x": {"field": "t", "type": "quantitative", "scale": {"domain": [58.21, 75.745], "nice": false, "zero": false}},
        "y": {"field": "e", "type": "quantitative", "scale": {"domain": [1.31, 9.70], "nice": false, "zero": false}}
      }
    },
    {
      "data": {"name": "A"},
      "mark": {"type": "line", "clip": true, "strokeWidth": 1.4, "color": "#c93a64", "opacity": 0.9},
      "encoding": {
        "x": {"field": "t", "type": "quantitative", "scale": {"domain": [58.21, 75.745], "nice": false, "zero": false}},
        "y": {"field": "e", "type": "quantitative", "scale": {"domain": [1.31, 9.70], "nice": false, "zero": false}}
      }
    },
    {
      "data": {"name": "marker"},
      "mark": {"type": "rule", "color": "#e4aac0", "strokeWidth": 1.2},
      "encoding": {
        "x": {"field": "t", "type": "quantitative", "scale": {"domain": [58.21, 75.745], "nice": false, "zero": false}},
        "y": {"field": "top", "type": "quantitative", "scale": {"domain": [1.31, 9.70], "nice": false, "zero": false}},
        "y2": {"field": "bot"}
      }
    },
    {
      "data": {"name": "marker"},
      "mark": {"type": "point", "shape": "triangle-left", "filled": false, "size": 150, "color": "#d06e94", "strokeWidth": 1.3, "opacity": 1},
      "encoding": {
        "x": {"field": "tx", "type": "quantitative", "scale": {"domain": [58.21, 75.745], "nice": false, "zero": false}},
        "y": {"field": "ty", "type": "quantitative", "scale": {"domain": [1.31, 9.70], "nice": false, "zero": false}}
      }
    },
    {
      "data": {"name": "marker"},
      "mark": {"type": "text", "font": "Liberation Sans", "fontSize": 13, "color": "#c4587e", "align": "center", "baseline": "middle"},
      "encoding": {
        "x": {"field": "t", "type": "quantitative", "scale": {"domain": [58.21, 75.745], "nice": false, "zero": false}},
        "y": {"field": "ly", "type": "quantitative", "scale": {"domain": [1.31, 9.70], "nice": false, "zero": false}},
        "text": {"field": "label"}
      }
    },
    {
      "data": {"name": "arrows"},
      "mark": {"type": "rule", "strokeWidth": 2.6, "clip": false},
      "encoding": {
        "x": {"field": "x1", "type": "quantitative", "scale": {"domain": [58.21, 75.745], "nice": false, "zero": false}},
        "y": {"field": "y1", "type": "quantitative", "scale": {"domain": [1.31, 9.70], "nice": false, "zero": false}},
        "x2": {"field": "x2"},
        "y2": {"field": "y2"},
        "color": {"field": "id", "type": "nominal", "legend": null,
                  "scale": {"domain": ["black", "red1", "darkred", "green", "blue", "red2"], "range": ["#000000", "#ff0000", "#c00000", "#00b050", "#0070c0", "#ff0000"]}}
      }
    },
    {
      "data": {"name": "heads"},
      "transform": [{"filter": "datum.id === 'black'"}],
      "mark": {"type": "point", "shape": "triangle-up", "filled": true, "size": 300, "angle": 226, "color": "#000000", "opacity": 1},
      "encoding": {
        "x": {"field": "x", "type": "quantitative", "scale": {"domain": [58.21, 75.745], "nice": false, "zero": false}},
        "y": {"field": "y", "type": "quantitative", "scale": {"domain": [1.31, 9.70], "nice": false, "zero": false}}
      }
    },
    {
      "data": {"name": "heads"},
      "transform": [{"filter": "datum.id === 'red1'"}],
      "mark": {"type": "point", "shape": "triangle-up", "filled": true, "size": 220, "angle": 233, "color": "#ff0000", "opacity": 1},
      "encoding": {
        "x": {"field": "x", "type": "quantitative", "scale": {"domain": [58.21, 75.745], "nice": false, "zero": false}},
        "y": {"field": "y", "type": "quantitative", "scale": {"domain": [1.31, 9.70], "nice": false, "zero": false}}
      }
    },
    {
      "data": {"name": "heads"},
      "transform": [{"filter": "datum.id === 'darkred'"}],
      "mark": {"type": "point", "shape": "triangle-up", "filled": true, "size": 220, "angle": 207, "color": "#c00000", "opacity": 1},
      "encoding": {
        "x": {"field": "x", "type": "quantitative", "scale": {"domain": [58.21, 75.745], "nice": false, "zero": false}},
        "y": {"field": "y", "type": "quantitative", "scale": {"domain": [1.31, 9.70], "nice": false, "zero": false}}
      }
    },
    {
      "data": {"name": "heads"},
      "transform": [{"filter": "datum.id === 'green'"}],
      "mark": {"type": "point", "shape": "triangle-up", "filled": true, "size": 220, "angle": 177, "color": "#00b050", "opacity": 1},
      "encoding": {
        "x": {"field": "x", "type": "quantitative", "scale": {"domain": [58.21, 75.745], "nice": false, "zero": false}},
        "y": {"field": "y", "type": "quantitative", "scale": {"domain": [1.31, 9.70], "nice": false, "zero": false}}
      }
    },
    {
      "data": {"name": "heads"},
      "transform": [{"filter": "datum.id === 'blue'"}],
      "mark": {"type": "point", "shape": "triangle-up", "filled": true, "size": 220, "angle": 203.5, "color": "#0070c0", "opacity": 1},
      "encoding": {
        "x": {"field": "x", "type": "quantitative", "scale": {"domain": [58.21, 75.745], "nice": false, "zero": false}},
        "y": {"field": "y", "type": "quantitative", "scale": {"domain": [1.31, 9.70], "nice": false, "zero": false}}
      }
    },
    {
      "data": {"name": "heads"},
      "transform": [{"filter": "datum.id === 'red2'"}],
      "mark": {"type": "point", "shape": "triangle-up", "filled": true, "size": 220, "angle": 215, "color": "#ff0000", "opacity": 1},
      "encoding": {
        "x": {"field": "x", "type": "quantitative", "scale": {"domain": [58.21, 75.745], "nice": false, "zero": false}},
        "y": {"field": "y", "type": "quantitative", "scale": {"domain": [1.31, 9.70], "nice": false, "zero": false}}
      }
    },
    {
      "data": {"name": "keys"},
      "mark": {"type": "rule", "strokeWidth": 7, "clip": false},
      "encoding": {
        "x": {"field": "x1", "type": "quantitative", "scale": {"domain": [58.21, 75.745], "nice": false, "zero": false}},
        "x2": {"field": "x2"},
        "y": {"field": "y", "type": "quantitative", "scale": {"domain": [1.31, 9.70], "nice": false, "zero": false}},
        "color": {"field": "id", "type": "nominal", "legend": null,
                  "scale": {"domain": ["g", "r", "b"], "range": ["#92d050", "#c00000", "#558ed5"]}}
      }
    },
    {
      "data": {"name": "thinkey"},
      "mark": {"type": "rule", "strokeWidth": 3, "color": "#953735", "clip": false},
      "encoding": {
        "x": {"field": "x1", "type": "quantitative", "scale": {"domain": [58.21, 75.745], "nice": false, "zero": false}},
        "x2": {"field": "x2"},
        "y": {"field": "y", "type": "quantitative", "scale": {"domain": [1.31, 9.70], "nice": false, "zero": false}}
      }
    },
    {
      "data": {"name": "labels"},
      "mark": {"type": "text", "font": "Liberation Serif", "fontSize": 30, "color": "#000000", "align": "left", "baseline": "alphabetic"},
      "encoding": {
        "x": {"field": "x", "type": "quantitative", "scale": {"domain": [58.21, 75.745], "nice": false, "zero": false}},
        "y": {"field": "y", "type": "quantitative", "scale": {"domain": [1.31, 9.70], "nice": false, "zero": false}},
        "text": {"field": "txt"}
      }
    }
  ]
}
